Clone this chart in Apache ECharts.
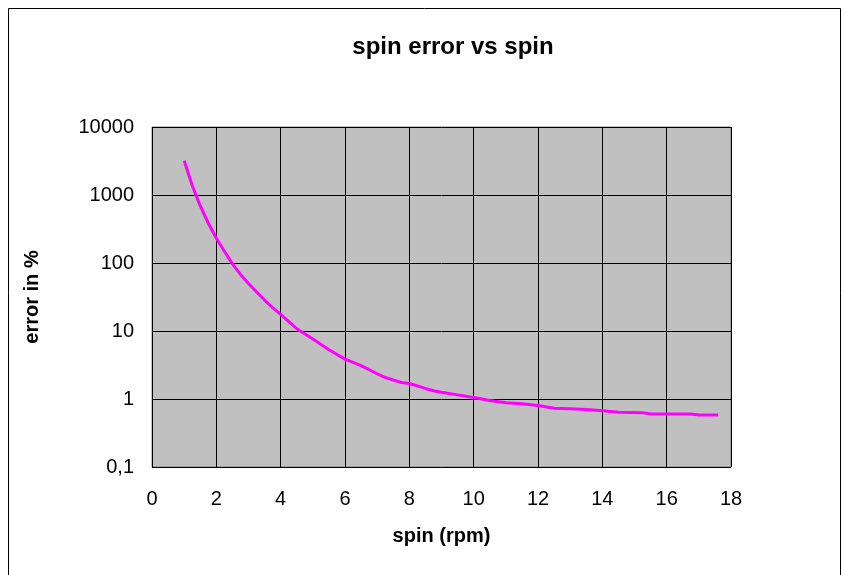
<!DOCTYPE html>
<html>
<head>
<meta charset="utf-8">
<script src="https://cdn.jsdelivr.net/npm/echarts@6/dist/echarts.min.js"></script>
<style>
html,body{margin:0;padding:0;background:#fff;}
#chart{width:846px;height:575px;}
</style>
</head>
<body>
<div id="chart"></div>
<script>
// ---- data ----
var spinRpm = [1, 1.25, 1.5, 1.75, 2, 2.25, 2.5, 2.75, 3, 3.25, 3.5, 3.75, 4, 4.5, 5, 5.5, 6, 6.5, 7, 7.2, 7.5, 7.75, 8, 8.5, 8.75, 9, 9.5, 10, 10.5, 11, 11.5, 12, 12.5, 13, 13.5, 14, 14.5, 15.25, 15.5, 16.75, 17, 17.6];
var errorPct = [3200, 1380, 690, 384, 231, 149, 97, 68, 50, 37.6, 28.5, 22, 17.5, 10.8, 7.6, 5.3, 3.86, 3.1, 2.35, 2.12, 1.9, 1.75, 1.69, 1.43, 1.32, 1.26, 1.15, 1.05, 0.95, 0.88, 0.85, 0.80, 0.73, 0.72, 0.70, 0.67, 0.64, 0.63, 0.60, 0.60, 0.58, 0.58];
var titleText = 'spin error vs spin';
var xName = 'spin (rpm)';
var yName = 'error in %';

var font = "'Liberation Sans', Arial, sans-serif";
var chart = echarts.init(document.getElementById('chart'), null, {renderer: 'canvas'});
var pts = spinRpm.map(function (x, i) { return [x, errorPct[i]]; });

chart.setOption({
  animation: false,
  backgroundColor: '#ffffff',
  title: {
    text: titleText,
    left: 448, top: 30,
    textAlign: 'center',
    textStyle: {fontFamily: font, fontSize: 24, fontWeight: 'bold', color: '#000'}
  },
  graphic: [{
    type: 'rect', silent: true, z: -1,
    shape: {x: 8.5, y: 8.5, width: 832, height: 570},
    style: {fill: 'none', stroke: '#000', lineWidth: 1}
  }],
  grid: {
    left: 152, right: 115, top: 127, bottom: 108,
    show: true, backgroundColor: '#c0c0c0', borderColor: '#808080', borderWidth: 1
  },
  xAxis: {
    type: 'value', min: 0, max: 18, interval: 2,
    name: xName, nameLocation: 'middle', nameGap: 59,
    nameTextStyle: {fontFamily: font, fontSize: 20, fontWeight: 'bold', color: '#000'},
    axisLine: {show: false}, axisTick: {show: false},
    axisLabel: {fontFamily: font, fontSize: 20, color: '#000', margin: 22},
    splitLine: {show: true, lineStyle: {color: '#000', width: 1}}
  },
  yAxis: {
    type: 'log', logBase: 10, min: 0.1, max: 10000,
    name: yName, nameLocation: 'middle', nameGap: 110, nameRotate: 90,
    nameTextStyle: {fontFamily: font, fontSize: 20, fontWeight: 'bold', color: '#000'},
    axisLine: {show: false}, axisTick: {show: false},
    axisLabel: {
      fontFamily: font, fontSize: 20, color: '#000', margin: 18,
      formatter: function (v) { return v < 1 ? String(+v.toFixed(1)).replace('.', ',') : String(Math.round(v)); }
    },
    splitLine: {show: true, lineStyle: {color: '#000', width: 1}}
  },
  series: [{
    type: 'line', data: pts, showSymbol: false, smooth: false,
    lineStyle: {color: '#ff00ff', width: 3}, itemStyle: {color: '#ff00ff'}
  }]
});
</script>
</body>
</html>
